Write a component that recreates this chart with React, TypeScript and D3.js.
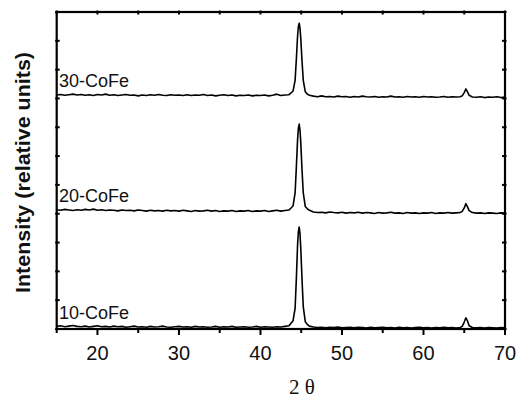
import React from "react";
import * as d3 from "d3";

// 2-theta positions (degrees), shared by all three patterns
const twoTheta = [
  15, 15.5, 16, 16.5, 17, 17.5, 18, 18.5, 19, 19.5, 20, 20.5, 21, 21.5, 22, 22.5, 23, 23.5, 24, 24.5,
  25, 25.5, 26, 26.5, 27, 27.5, 28, 28.5, 29, 29.5, 30, 30.5, 31, 31.5, 32, 32.5, 33, 33.5, 34, 34.5,
  35, 35.5, 36, 36.5, 37, 37.5, 38, 38.5, 39, 39.5, 40, 40.5, 41, 41.5, 42, 42.5, 43, 43.5,
  43.75, 44, 44.25, 44.4, 44.55, 44.65, 44.75, 44.85, 44.95, 45.1, 45.25, 45.5, 45.75, 46,
  46.5, 47, 47.5, 48, 48.5, 49, 49.5, 50, 50.5, 51, 51.5, 52, 52.5, 53, 53.5, 54, 54.5, 55, 55.5, 56,
  56.5, 57, 57.5, 58, 58.5, 59, 59.5, 60, 60.5, 61, 61.5, 62, 62.5, 63, 63.5, 64, 64.5,
  64.75, 65, 65.2, 65.4, 65.6, 66,
  66.5, 67, 67.5, 68, 68.5, 69, 69.5, 70,
];

// Intensities (relative units, stacked with offsets as in the figure)
const cofe30 = [
  81.2, 81.4, 81.1, 81.3, 81.5, 81.2, 81.4, 81.1, 81.3, 81.0, 81.4, 81.2, 81.5, 81.1, 81.3, 81.0, 81.2, 81.4, 81.1, 81.2,
  80.9, 81.2, 81.0, 81.3, 81.1, 81.4, 81.1, 81.0, 81.3, 81.1, 81.2, 81.0, 81.3, 81.0, 81.2, 81.1, 81.4, 81.0, 81.2, 80.9,
  81.1, 81.3, 81.0, 81.2, 80.9, 81.1, 81.0, 81.2, 80.9, 81.1, 81.0, 81.2, 80.9, 81.1, 81.5, 81.0, 81.2, 81.3,
  81.9, 82.6, 86.3, 93.5, 101.6, 104.9, 106.1, 104.4, 100.6, 92.8, 86.3, 82.3, 81.5, 81.1,
  80.8, 80.6, 80.9, 80.6, 80.7, 80.5, 80.8, 80.6, 80.7, 80.4, 80.7, 80.5, 80.8, 80.6, 80.5, 80.7, 80.4, 80.6, 80.5, 80.8,
  80.5, 80.6, 80.4, 80.7, 80.5, 80.6, 80.4, 80.7, 80.5, 80.6, 80.4, 80.5, 80.7, 80.4, 80.6, 80.5, 80.6,
  80.9, 82.0, 83.3, 82.3, 81.1, 80.5,
  80.4, 80.6, 80.3, 80.5, 80.4, 80.6, 80.3, 80.5,
];

const cofe20 = [
  41.4, 41.2, 41.5, 41.3, 41.1, 41.4, 41.2, 41.5, 41.3, 41.6, 41.2, 41.4, 41.1, 41.3, 41.2, 41.0, 41.3, 41.1, 41.2, 41.0,
  41.3, 41.1, 40.9, 41.2, 41.0, 41.1, 40.9, 41.2, 41.0, 41.1, 40.9, 41.2, 41.0, 40.8, 41.1, 40.9, 41.0, 41.2, 40.9, 41.1,
  40.8, 41.0, 40.9, 41.1, 40.8, 41.0, 40.9, 41.1, 40.8, 41.0, 40.9, 41.1, 40.8, 41.0, 41.2, 40.9, 41.1, 41.3,
  42.0, 42.8, 47.2, 56.0, 65.6, 69.6, 71.1, 69.0, 64.4, 55.0, 47.2, 42.5, 41.7, 41.2,
  40.6, 40.4, 40.5, 40.3, 40.6, 40.4, 40.3, 40.5, 40.2, 40.4, 40.3, 40.5, 40.2, 40.4, 40.3, 40.1, 40.4, 40.2, 40.3, 40.5,
  40.2, 40.3, 40.1, 40.4, 40.2, 40.3, 40.1, 40.3, 40.2, 40.4, 40.1, 40.3, 40.2, 40.4, 40.2, 40.3, 40.4,
  40.8, 42.0, 43.5, 42.4, 41.1, 40.4,
  40.2, 40.3, 40.1, 40.3, 40.2, 40.1, 40.3, 40.2,
];

const cofe10 = [
  0.9, 1.1, 0.8, 1.0, 1.2, 0.9, 0.8, 1.0, 0.7, 0.9, 1.1, 0.8, 0.9, 0.7, 1.0, 0.8, 0.9, 0.6, 0.8, 1.0,
  0.7, 0.8, 0.6, 0.9, 0.7, 0.8, 1.0, 0.7, 0.6, 0.8, 0.9, 0.7, 0.8, 0.6, 0.9, 0.7, 0.8, 0.6, 0.7, 0.9,
  0.6, 0.8, 0.7, 0.9, 0.6, 0.7, 0.8, 0.6, 0.7, 0.9, 0.6, 0.8, 0.7, 0.6, 0.8, 0.7, 0.9, 1.1,
  2.0, 2.9, 7.2, 17.3, 29.1, 33.7, 35.4, 33.0, 27.7, 17.0, 7.8, 2.5, 1.6, 1.0,
  0.7, 0.5, 0.6, 0.4, 0.6, 0.5, 0.7, 0.4, 0.5, 0.6, 0.4, 0.6, 0.5, 0.3, 0.6, 0.4, 0.5, 0.6, 0.4, 0.5,
  0.3, 0.6, 0.4, 0.5, 0.3, 0.5, 0.6, 0.4, 0.5, 0.3, 0.5, 0.4, 0.6, 0.4, 0.5, 0.3, 0.5,
  0.9, 2.4, 3.9, 2.8, 1.1, 0.5,
  0.4, 0.5, 0.3, 0.5, 0.4, 0.3, 0.5, 0.4,
];

const seriesNames = ["30-CoFe", "20-CoFe", "10-CoFe"];
const seriesValues = [cofe30, cofe20, cofe10];

const xMajorTicks = [20, 30, 40, 50, 60, 70];
const xMinorTicks = [15, 25, 35, 45, 55, 65];
const yTicks = [0, 10, 20, 30, 40, 50, 60, 70, 80, 90, 100, 110];

const xLabel = "2 \u03B8";
const yLabel = "Intensity (relative units)";

export default function App() {
  const W = 516;
  const H = 399;
  const left = 56.7;
  const right = 505;
  const top = 12;
  const bottom = 329;

  const x = d3.scaleLinear().domain([15, 70]).range([left, right]);
  const y = d3.scaleLinear().domain([0, 110]).range([bottom, top]);

  const line = d3
    .line<number>()
    .x((_, i) => x(twoTheta[i]))
    .y((d) => y(d));

  const sans = "'Liberation Sans', Arial, Helvetica, sans-serif";

  return (
    <svg
      width={W}
      height={H}
      style={{ position: "absolute", left: 0, top: 0, background: "#fff" }}
    >
      {seriesValues.map((vals, k) => (
        <g key={seriesNames[k]}>
          <path d={line(vals) || ""} fill="none" stroke="#000" strokeWidth={1.6} strokeLinejoin="round" />
          <text x={59} y={y(vals[0]) - 7.5} fontFamily={sans} fontSize={18} fill="#111">
            {seriesNames[k]}
          </text>
        </g>
      ))}

      {/* frame */}
      <rect x={left} y={top} width={right - left} height={bottom - top} fill="none" stroke="#000" strokeWidth={2.2} />

      {/* bottom ticks (outward) */}
      {xMajorTicks.map((t) => (
        <line key={"bM" + t} x1={x(t)} x2={x(t)} y1={bottom} y2={bottom + 6} stroke="#000" strokeWidth={2} />
      ))}
      {xMinorTicks.map((t) => (
        <line key={"bm" + t} x1={x(t)} x2={x(t)} y1={bottom} y2={bottom + 4} stroke="#000" strokeWidth={2} />
      ))}
      {/* top ticks (small) */}
      {[...xMajorTicks, ...xMinorTicks].map((t) => (
        <line key={"t" + t} x1={x(t)} x2={x(t)} y1={top - 1.5} y2={top + 2.5} stroke="#000" strokeWidth={2} />
      ))}
      {/* left / right ticks */}
      {yTicks.map((t) => (
        <g key={"y" + t}>
          <line x1={left - 1.5} x2={left + 3} y1={y(t)} y2={y(t)} stroke="#000" strokeWidth={2} />
          <line x1={right - 3} x2={right + 1.5} y1={y(t)} y2={y(t)} stroke="#000" strokeWidth={2} />
        </g>
      ))}

      {/* x tick labels */}
      {xMajorTicks.map((t) => (
        <text key={"l" + t} x={x(t)} y={360} textAnchor="middle" fontFamily={sans} fontSize={20} fill="#111">
          {t}
        </text>
      ))}

      {/* axis titles */}
      <text
        x={302}
        y={394}
        textAnchor="middle"
        fontFamily="'Liberation Serif', 'Times New Roman', serif"
        fontSize={21}
        fill="#111"
      >
        {xLabel}
      </text>
      <text
        transform="translate(30,172.5) rotate(-90)"
        textAnchor="middle"
        fontFamily={sans}
        fontWeight="bold"
        fontSize={19.5}
        textLength={241}
        lengthAdjust="spacingAndGlyphs"
        fill="#111"
      >
        {yLabel}
      </text>
    </svg>
  );
}
